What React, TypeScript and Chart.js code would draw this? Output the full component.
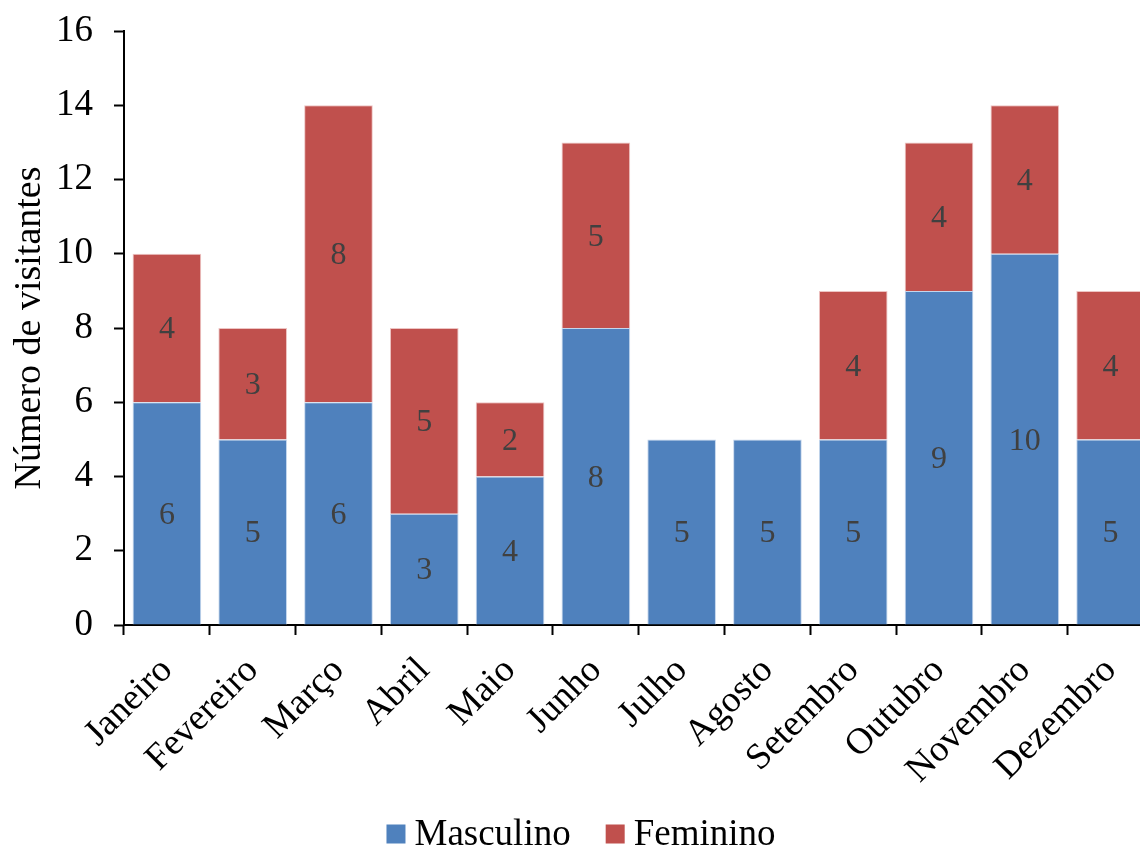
import { useEffect, useRef } from "react";
import { Chart, registerables } from "chart.js";

Chart.register(...registerables);

// Monthly visitors split by sex
const months = [
  "Janeiro", "Fevereiro", "Março", "Abril", "Maio", "Junho",
  "Julho", "Agosto", "Setembro", "Outubro", "Novembro", "Dezembro",
];
const masculino = [6, 5, 6, 3, 4, 8, 5, 5, 5, 9, 10, 5];
const feminino = [4, 3, 8, 5, 2, 5, 0, 0, 4, 4, 4, 4];
const seriesNames = ["Masculino", "Feminino"];
const seriesColors = ["#4F81BD", "#C0504D"];
const seriesEdges = ["rgba(190,210,235,0.9)", "rgba(235,190,188,0.9)"];
const yMin = 0;
const yMax = 16;
const yStep = 2;
const yTitle = "Número de visitantes";

const FONT = "'Liberation Serif', 'Times New Roman', serif";
const CANVAS_W = 1156;
const CANVAS_H = 848;

// Value printed in the middle of each stacked segment
const segmentLabels = {
  id: "segmentLabels",
  afterDatasetsDraw(chart: any) {
    const ctx = chart.ctx;
    ctx.save();
    ctx.fillStyle = "#404040";
    ctx.font = `32px ${FONT}`;
    ctx.textAlign = "center";
    ctx.textBaseline = "middle";
    chart.data.datasets.forEach((ds: any, di: number) => {
      const meta = chart.getDatasetMeta(di);
      meta.data.forEach((bar: any, i: number) => {
        const v = ds.data[i];
        if (!v) return;
        const cy = (bar.y + bar.base) / 2;
        ctx.fillText(String(v), bar.x, cy + 2);
      });
    });
    ctx.restore();
  },
};

// Legend row under the rotated month names
const bottomLegend = {
  id: "bottomLegend",
  afterDraw(chart: any) {
    const ctx = chart.ctx;
    ctx.save();
    ctx.font = `37px ${FONT}`;
    ctx.textBaseline = "middle";
    ctx.textAlign = "left";
    const box = 19;
    const gap = 9;
    const between = 35;
    const widths = seriesNames.map((n) => ctx.measureText(n).width);
    const total =
      widths.reduce((a, w) => a + box + gap + w, 0) + between * (seriesNames.length - 1);
    let x = 581 - total / 2;
    const cy = 834;
    seriesNames.forEach((name, i) => {
      ctx.fillStyle = seriesColors[i];
      ctx.fillRect(x, cy - box / 2, box, box);
      x += box + gap;
      ctx.fillStyle = "#000";
      ctx.fillText(name, x, cy + 1);
      x += widths[i] + between;
    });
    ctx.restore();
  },
};

export default function App() {
  const ref = useRef<HTMLCanvasElement | null>(null);

  useEffect(() => {
    if (!ref.current) return;
    const chart = new Chart(ref.current, {
      type: "bar",
      data: {
        labels: months,
        datasets: [
          {
            label: seriesNames[0],
            data: masculino,
            backgroundColor: seriesColors[0],
            borderColor: seriesEdges[0],
            borderWidth: 1,
          },
          {
            label: seriesNames[1],
            data: feminino,
            backgroundColor: seriesColors[1],
            borderColor: seriesEdges[1],
            borderWidth: 1,
          },
        ],
      },
      options: {
        responsive: false,
        animation: false,
        layout: { padding: { top: 31, left: 0, right: 0, bottom: 0 } },
        datasets: { bar: { categoryPercentage: 0.8, barPercentage: 1 } },
        plugins: {
          legend: { display: false },
          tooltip: { enabled: false },
        },
        scales: {
          x: {
            stacked: true,
            afterFit(scale: any) {
              scale.height = CANVAS_H - 625;
            },
            border: { display: true, color: "#000", width: 2 },
            grid: {
              display: true,
              drawOnChartArea: false,
              drawTicks: true,
              tickLength: 10,
              tickWidth: 2,
              tickColor: "#000",
              offset: true,
            },
            ticks: {
              color: "#000",
              font: { family: FONT, size: 37 },
              maxRotation: 45,
              minRotation: 45,
              autoSkip: false,
              padding: 14,
            },
          },
          y: {
            stacked: true,
            min: yMin,
            max: yMax,
            afterFit(scale: any) {
              scale.width = 124;
              scale.paddingTop = 0;
              scale.paddingBottom = 0;
            },
            border: { display: true, color: "#000", width: 2 },
            grid: {
              display: true,
              drawOnChartArea: false,
              drawTicks: true,
              tickLength: 10,
              tickWidth: 2,
              tickColor: "#000",
            },
            ticks: {
              stepSize: yStep,
              color: "#000",
              font: { family: FONT, size: 37 },
              padding: 21,
            },
            title: {
              display: true,
              text: yTitle,
              color: "#000",
              font: { family: FONT, size: 38 },
              padding: { top: 7, bottom: 0 },
            },
          },
        },
      },
      plugins: [segmentLabels, bottomLegend],
    });
    return () => chart.destroy();
  }, []);

  return (
    <div
      style={{
        position: "fixed",
        left: 0,
        top: 0,
        width: 1140,
        height: 848,
        overflow: "hidden",
        background: "#fff",
      }}
    >
      <canvas
        ref={ref}
        width={CANVAS_W}
        height={CANVAS_H}
        style={{ display: "block", width: CANVAS_W, height: CANVAS_H }}
      />
    </div>
  );
}
